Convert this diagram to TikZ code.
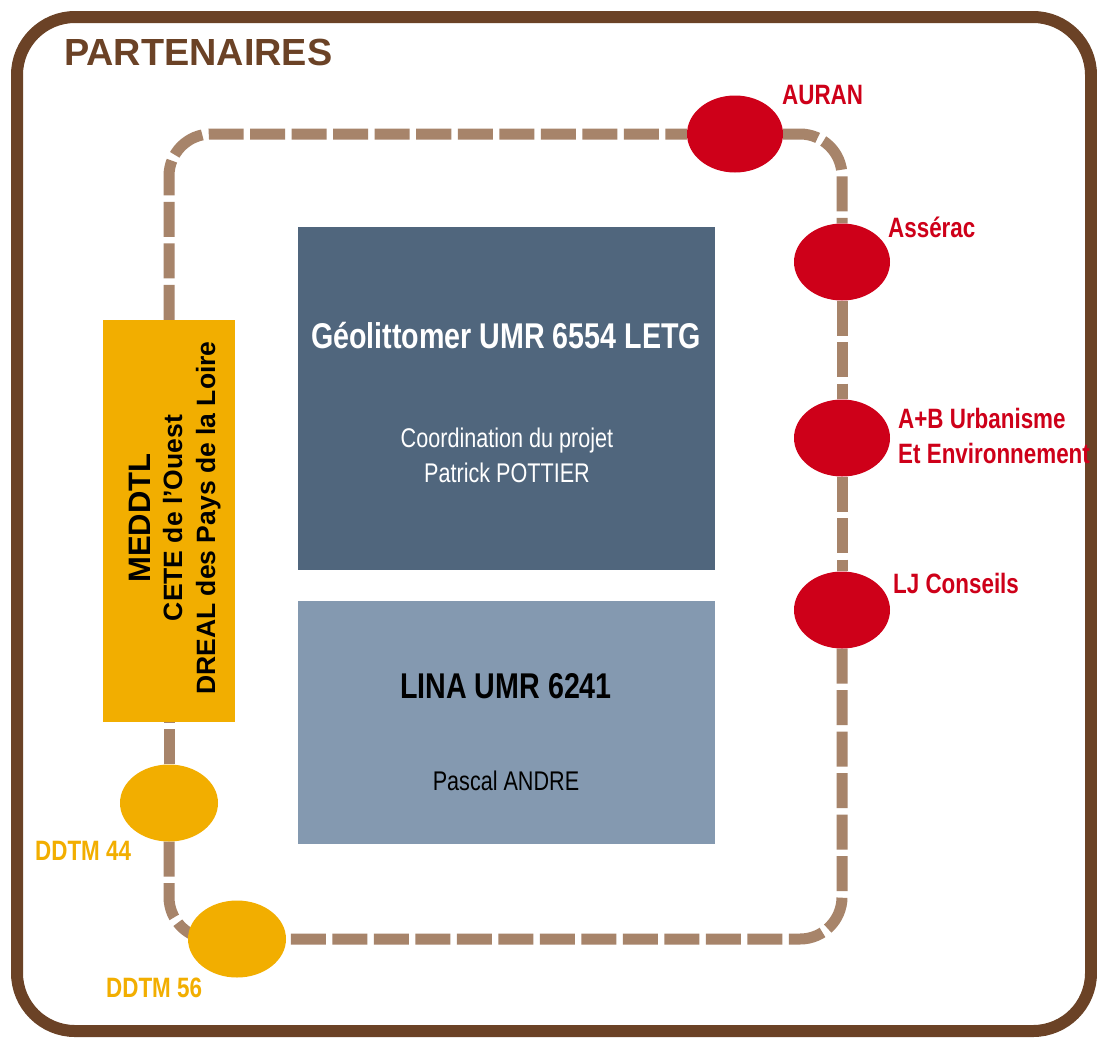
\documentclass[tikz,border=0pt]{standalone}
\usepackage{fontspec}
\setmainfont{Liberation Sans}
\newfontfamily\narrowfont[FakeStretch=0.8]{Liberation Sans}
\usetikzlibrary{shapes.geometric,backgrounds}
\definecolor{framebrown}{HTML}{6B4226}
\definecolor{dashbrown}{HTML}{A7846A}
\definecolor{spotred}{HTML}{CE0019}
\definecolor{spotorange}{HTML}{F2AE00}
\definecolor{darkbox}{HTML}{50667D}
\definecolor{lightbox}{HTML}{8499B0}
\tikzset{
  dashline/.style={line width=11pt, draw=dashbrown, dash pattern=on 35pt off 6.5pt, rounded corners=42pt},
  redspot/.style={ellipse, fill=spotred, minimum width=96pt, minimum height=77pt, inner sep=0pt},
  orangespot/.style={ellipse, fill=spotorange, minimum width=98pt, minimum height=77pt, inner sep=0pt},
  spotlabel/.style={inner sep=0pt, anchor=base west, font=\narrowfont\bfseries\fontsize{28}{30}\selectfont},
  boxtitle/.style={inner sep=0pt, anchor=base, font=\narrowfont\bfseries\fontsize{35.8}{38}\selectfont},
  boxtext/.style={inner sep=0pt, anchor=base, font=\narrowfont\fontsize{27}{30}\selectfont},
  sidetext/.style={inner sep=0pt, anchor=base, rotate=90, font=\bfseries\fontsize{26.5}{30}\selectfont}
}
\begin{document}
\begin{tikzpicture}[x=1pt,y=-1pt]
\useasboundingbox (0,0) rectangle (1097,1037);
% outer frame
\draw[line width=12pt, framebrown, rounded corners=58pt] (17,17) rectangle (1091,1031);
\node[inner sep=0pt, anchor=base west, text=framebrown, font=\bfseries\fontsize{37.8}{40}\selectfont] (title) at (64,65) {PARTENAIRES};

% central boxes
\node[fill=darkbox, minimum width=417pt, minimum height=343pt, inner sep=0pt] (geo) at (506.5,398.5) {};
\node[boxtitle, text=white] (geot) at (506,348) {Géolittomer UMR 6554 LETG};
\node[boxtext, text=white] (geoa) at (507,447) {Coordination du projet};
\node[boxtext, text=white] (geob) at (507,482) {Patrick POTTIER};

\node[fill=lightbox, minimum width=417pt, minimum height=243pt, inner sep=0pt] (lina) at (506.5,722.5) {};
\node[boxtitle, text=black] (linat) at (506,698) {LINA UMR 6241};
\node[boxtext, text=black] (linaa) at (506,790) {Pascal ANDRE};

% side box
\node[fill=spotorange, minimum width=132pt, minimum height=402pt, inner sep=0pt] (meddtl) at (169,521) {};
\node[sidetext, font=\bfseries\fontsize{31}{33}\selectfont] (med1) at (150,518) {MEDDTL};
\node[sidetext] (med2) at (182,518) {CETE de l’Ouest};
\node[sidetext] (med3) at (215,518) {DREAL des Pays de la Loire};

% spots
\node[redspot] (auran) at (735,134) {};
\node[redspot] (asserac) at (842,262) {};
\node[redspot] (ab) at (842,438) {};
\node[redspot] (lj) at (842,610) {};
\node[orangespot] (ddtm44) at (169,803) {};
\node[orangespot] (ddtm56) at (237,939) {};

% labels
\node[spotlabel, text=spotred] (lauran) at (782,104) {AURAN};
\node[spotlabel, text=spotred] (lasserac) at (888,237) {Assérac};
\node[spotlabel, text=spotred] (lab1) at (898,428) {A+B Urbanisme};
\node[spotlabel, text=spotred] (lab2) at (898,463) {Et Environnement};
\node[spotlabel, text=spotred] (llj) at (893,593) {LJ Conseils};
\node[spotlabel, text=spotorange] (l44) at (35,860) {DDTM 44};
\node[spotlabel, text=spotorange] (l56) at (106,997) {DDTM 56};

% dashed ring
\begin{pgfonlayer}{background}
\fill[white] (0,0) rectangle (1097,1037);
\draw[dashline] (meddtl.north) |- (auran.west);
\draw[dashline] (auran.east) -| (asserac.north);
\draw[dashline] (asserac.south) -- (ab.north);
\draw[dashline] (ab.south) -- (lj.north);
\draw[dashline] (lj.south) |- (ddtm56.east);
\draw[dashline] (ddtm44.south) |- (ddtm56.center);
\draw[dashline] (ddtm44.north) -- (meddtl.south);
\end{pgfonlayer}
\end{tikzpicture}
\end{document}
